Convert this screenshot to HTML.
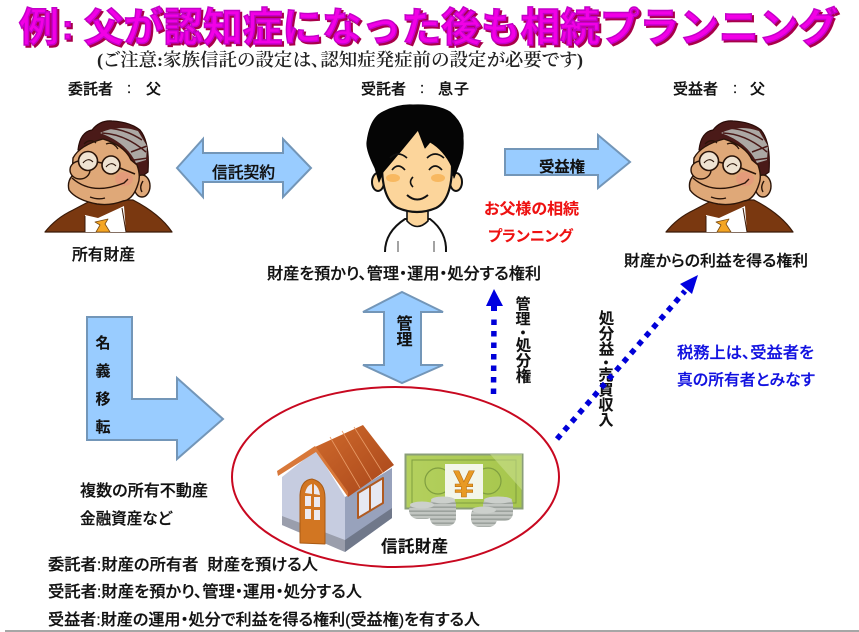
<!DOCTYPE html>
<html lang="ja">
<head>
<meta charset="utf-8">
<title>例:父が認知症になった後も相続プランニング</title>
<style>
html,body{margin:0;padding:0;background:#fff;width:859px;height:632px;overflow:hidden}
svg{display:block;filter:blur(.35px)}
text{font-family:"Liberation Sans","Noto Sans CJK JP",sans-serif;fill:#111;font-weight:500;stroke:#111;stroke-width:.25;font-feature-settings:"palt" 1}
.arr{fill:#99ccff;stroke:#7396b8;stroke-width:2}
.v{writing-mode:vertical-rl;font-weight:700;stroke-width:.1;font-feature-settings:normal}
.t{font-size:40px;font-weight:700;fill:#f200e6;stroke:#c400c8;stroke-width:1.5;font-feature-settings:normal}
.red{fill:#ee1111;stroke:#ee1111;font-weight:700;stroke-width:.1}
.blue{fill:#1010e0;stroke:#1010e0}
.h{font-size:15px}
</style>
</head>
<body>
<svg width="859" height="632" viewBox="0 0 859 632" xmlns="http://www.w3.org/2000/svg">
<defs>
<pattern id="coin" width="4" height="4" patternUnits="userSpaceOnUse"><rect width="4" height="4" fill="#c2c6c2"/><rect y="2.4" width="4" height="1.6" fill="#9ca29d"/></pattern>
<linearGradient id="roof" x1="0" y1="0" x2="1" y2="1"><stop offset="0" stop-color="#cf6a2c"/><stop offset="1" stop-color="#a8461a"/></linearGradient>
<linearGradient id="bill" x1="0" y1="0" x2="1" y2="0"><stop offset="0" stop-color="#b4d05e"/><stop offset="1" stop-color="#a6c64c"/></linearGradient>
<g id="man" stroke-linejoin="round">
  <path d="M45 232 Q56 218 73 210 L92 200 L133 200 Q160 214 172 232Z" fill="#7a3810" stroke="#3a1a08" stroke-width="1.2"/>
  <path d="M85 232 V215 L98 218 L124 206 L126 232Z" fill="#fff"/>
  <path d="M85 232 L85 216 M126 232 L122 208" stroke="#3a1a08" stroke-width="1"/>
  <path d="M95 222 L108 219 L105 224 L110 232 L96 232 L100 225Z" fill="#f5a623" stroke="#7a4a10" stroke-width=".8"/>
  <path d="M78 150 Q80 132 92 130 Q100 120 112 121 Q130 122 140 130 Q150 142 148 172 L137 180 L100 145Z" fill="#4a1a18" stroke="#2a0c08" stroke-width="1.2"/>
  <ellipse cx="142" cy="186" rx="8" ry="11" fill="#dfa878" stroke="#2a1408" stroke-width="1.4"/>
  <path d="M103 139 Q125 146 131 160 L137 165 Q141 176 138 184 Q133 200 123 201 Q110 206 97 204 Q76 200 69 190 Q67 182 72 176 L73 158 Q80 145 103 139Z" fill="#dfa878" stroke="#2a1408" stroke-width="1.4"/>
  <path d="M100 133 Q118 124 138 131 L147 146 L146 160 L136 163 Q126 142 100 133Z" fill="#aca8a4"/>
  <path d="M104 128 Q124 128 142 140 M102 133 Q125 134 146 152 M131 152 L147 146 M134 160 L148 158" stroke="#4a1a18" stroke-width="1.5" fill="none"/>
  <ellipse cx="124" cy="179" rx="9" ry="7" fill="#e8907c" opacity=".55"/>
  <ellipse cx="80" cy="170" rx="10" ry="9" fill="#dfa878" stroke="#2a1408" stroke-width="1.4"/>
  <path d="M72 178 Q92 196 124 183 L128 179 M90 197 Q98 200 105 198" fill="none" stroke="#2a1408" stroke-width="1.4"/>
  <path d="M84 144 Q90 138 96 143 M106 144 Q113 141 118 149" fill="none" stroke="#2a1408" stroke-width="1.3"/>
  <circle cx="88" cy="161" r="9.500" fill="#efe3d2" stroke="#2a1408" stroke-width="1.600"/>
  <circle cx="111" cy="165" r="9" fill="#efe3d2" stroke="#2a1408" stroke-width="1.600"/>
  <path d="M97 162 L102 163 M120 168 L135 174" stroke="#2a1408" stroke-width="1.6"/>
  <path d="M83 163 Q88 157 93 162 M106 167 Q111 161 116 166" fill="none" stroke="#2a1408" stroke-width="1.1"/>
  <path d="M143 181 Q139 187 142 192" fill="none" stroke="#2a1408" stroke-width="1.4"/>
</g>
</defs>

<!-- title -->
<g style="filter:drop-shadow(2.5px 2.5px 0 #a8004a)">
<text class="t" x="19" y="41">例</text>
<text class="t" x="62" y="39" style="font-size:34px">:</text>
<text class="t" x="84" y="41" textLength="754" lengthAdjust="spacingAndGlyphs">父が認知症になった後も相続プランニング</text>
</g>
<text x="97" y="66" font-size="18" textLength="486" lengthAdjust="spacingAndGlyphs" style='font-family:"Liberation Serif","Noto Serif CJK JP","Noto Serif CJK SC",serif;font-weight:600;fill:#222;stroke:none'>(ご注意:家族信託の設定は、認知症発症前の設定が必要です)</text>

<text class="h" x="68" y="94" textLength="45">委託者</text><text class="h" x="127" y="93">:</text><text class="h" x="146" y="94">父</text>
<text class="h" x="361" y="94" textLength="45">受託者</text><text class="h" x="420" y="93">:</text><text class="h" x="438" y="94" textLength="31">息子</text>
<text class="h" x="673" y="94" textLength="45">受益者</text><text class="h" x="733" y="93">:</text><text class="h" x="750" y="94">父</text>

<!-- people -->
<use href="#man"/>
<use href="#man" x="621"/>

<!-- son -->
<g stroke-linejoin="round">
  <path d="M385 252 Q385 232 405 219 L430 219 Q447 232 446 252" fill="#fff" stroke="#111" stroke-width="2"/>
  <path d="M398 241 V252 M434 241 V252" stroke="#666" stroke-width="1.2"/>
  <path d="M407 208 V221 Q417 232 428 221 V208Z" fill="#fcd59b" stroke="#111" stroke-width="1.6"/>
  <ellipse cx="378" cy="182" rx="6" ry="9" fill="#fcd59b" stroke="#111" stroke-width="2"/>
  <ellipse cx="456" cy="182" rx="6" ry="9" fill="#fcd59b" stroke="#111" stroke-width="2"/>
  <path d="M382 165 Q382 120 417 120 Q452 120 452 165 Q452 200 436 208 Q417 216 398 208 Q382 200 382 165Z" fill="#fcd59b" stroke="#111" stroke-width="2.2"/>
  <path d="M379 182 L375 168 Q366 150 367 142 Q370 118 383 112 Q398 104 413 105 Q436 104 450 112 Q464 124 463 138 Q464 152 460 162 L454 178 L452 167 Q444 150 430 142 L425 148 L418 130 Q402 150 383 172Z" fill="#050505" stroke="#050505" stroke-width="1"/>
  <path d="M390 158 Q398 150 407 158 M427 158 Q435 150 444 158 M392 170 Q398 162 405 170 M429 170 Q435 162 442 170" fill="none" stroke="#111" stroke-width="1.7"/>
  <ellipse cx="393" cy="178" rx="7" ry="4" fill="#f8b860"/>
  <ellipse cx="438" cy="178" rx="7" ry="4" fill="#f8b860"/>
  <path d="M413 177 Q408 182 413 187" fill="none" stroke="#111" stroke-width="1.600"/>
  <path d="M407 195 Q417 204 428 195" fill="none" stroke="#111" stroke-width="2"/>
</g>

<!-- block arrows -->
<polygon class="arr" points="177,168 203,139 203,153 283,153 283,139 311,168 283,197 283,182 203,182 203,197"/>
<polygon class="arr" points="505,149 598,149 598,135 630,162 598,188 598,175 505,175"/>
<polygon class="arr" points="402,292 443,312 421,312 421,365 443,365 402,383 363,365 384,365 384,312 363,312"/>
<polygon class="arr" points="87,317 132,317 132,399 177,399 177,378 223,419 177,459 177,440 87,440"/>

<text x="212" y="178" font-size="15.8" textLength="63">信託契約</text>
<text x="539" y="172" font-size="15.500" textLength="46" style="font-weight:700;stroke-width:.1">受益権</text>
<text class="red" x="484" y="214" font-size="15.500" textLength="95" lengthAdjust="spacingAndGlyphs">お父様の相続</text>
<text class="red" x="488" y="241" font-size="15" textLength="85" lengthAdjust="spacingAndGlyphs">プランニング</text>
<text x="72" y="260" font-size="15.800" textLength="63">所有財産</text>
<text x="267" y="279" font-size="15.800" textLength="274" lengthAdjust="spacingAndGlyphs">財産を預かり、管理・運用・処分する権利</text>
<text x="624" y="266" font-size="15.500" textLength="184" lengthAdjust="spacingAndGlyphs">財産からの利益を得る権利</text>
<text class="blue" x="677" y="358" font-size="15.800" textLength="137" lengthAdjust="spacingAndGlyphs">税務上は、受益者を</text>
<text class="blue" x="677" y="385" font-size="15.500" textLength="138" lengthAdjust="spacingAndGlyphs">真の所有者とみなす</text>
<text x="80" y="496" font-size="16" textLength="128" lengthAdjust="spacingAndGlyphs">複数の所有不動産</text>
<text x="80" y="524" font-size="16" textLength="92" lengthAdjust="spacingAndGlyphs">金融資産など</text>
<text x="48" y="570" font-size="15.800" textLength="270" lengthAdjust="spacingAndGlyphs" xml:space="preserve">委託者:財産の所有者  財産を預ける人</text>
<text x="48" y="597" font-size="15.800" textLength="314" lengthAdjust="spacingAndGlyphs">受託者:財産を預かり、管理・運用・処分する人</text>
<text x="48" y="625" font-size="15.800" textLength="432" lengthAdjust="spacingAndGlyphs">受益者:財産の運用・処分で利益を得る権利(受益権)を有する人</text>

<!-- vertical labels -->
<text class="v" x="402" y="315" font-size="16">管理</text>
<text class="v" x="102" y="335" font-size="15" letter-spacing="13">名義移転</text>
<text class="v" x="522" y="296" font-size="15">管理</text>
<text class="v" x="522" y="325" font-size="15">・</text>
<text class="v" x="522" y="337" font-size="15.500">処分権</text>
<text class="v" x="605" y="310" font-size="15.500">処分益</text>
<text class="v" x="605" y="355" font-size="15">・</text>
<text class="v" x="605" y="367" font-size="15">売買収入</text>

<!-- dotted arrows -->
<polygon points="494,289 503,306 497,306 497,311 491,311 491,306 486,306" fill="#0000e0"/>
<line x1="493.5" y1="394" x2="494" y2="316" stroke="#0000d8" stroke-width="5.5" stroke-dasharray="5.500 6"/>
<line x1="557" y1="439" x2="685" y2="291" stroke="#0000d8" stroke-width="5.5" stroke-dasharray="5.500 5.800"/>
<polygon points="698,275 692,294 680,284" fill="#0000e0"/>

<!-- ellipse -->
<ellipse cx="395.5" cy="477" rx="163.5" ry="90" fill="none" stroke="#c80820" stroke-width="2"/>

<!-- house -->
<g stroke-linejoin="round">
  <polygon points="282,477 316,450 345,497 345,552 282,525" fill="#c6cce0"/>
  <polygon points="282,516 345,540 345,552 282,525" fill="#9a9eac"/>
  <polygon points="345,497 392,468 392,518 345,552" fill="#98a2bc"/>
  <polygon points="345,540 392,508 392,518 345,552" fill="#70788a"/>
  <polygon points="363,425 394,465 348,497 315,447" fill="url(#roof)"/>
  <path d="M330 437 L360 488 M342 431 L372 481 M354 427 L383 473" stroke="#e89a66" stroke-width=".8"/>
  <polygon points="315,446 277,471 278,476 316,452 348,497 348,492" fill="#d8783a"/>
  <path d="M300 543 V495 Q301 480 312 479 Q325 482 325 498 V544Z" fill="#d27622" stroke="#a85a14" stroke-width="1"/>
  <path d="M305 493 Q307 485 312 484 V494Z M314 484 Q319 487 320 495 L314 494Z M305 496 H311 V506 H305Z M314 497 H320 V507 H314Z M305 509 H311 V519 H305Z M314 510 H320 V520 H314Z" fill="#eceaf0"/>
  <polygon points="358,493 383,478 383,503 358,518" fill="#e6e8f2" stroke="#b05a20" stroke-width="2"/>
  <path d="M370 486 V511" stroke="#b05a20" stroke-width="2"/>
</g>

<!-- banknote -->
<rect x="405.500" y="454.500" width="117" height="54" fill="url(#bill)" stroke="#8a9e78" stroke-width="2"/>
<path d="M412 460 H516 V503 H412Z" fill="none" stroke="#7f9e40" stroke-width="1"/>
<path d="M490 454 L522 454 V490Z" fill="#cfe39a" opacity=".5"/>
<circle cx="438" cy="481" r="13" fill="none" stroke="#7f9e40" stroke-width="1.2"/>
<circle cx="488" cy="481" r="13" fill="none" stroke="#7f9e40" stroke-width="1.2"/>
<rect x="445" y="464" width="38" height="35" fill="#f3f6ea"/>
<text x="464" y="497" font-size="38" text-anchor="middle" style="font-weight:700;fill:#e89a24;stroke:#b86e10;stroke-width:.6;font-feature-settings:normal">¥</text>

<!-- coins -->
<rect x="409" y="502" width="26" height="17" rx="9" fill="url(#coin)"/>
<rect x="430" y="497" width="26" height="29" rx="8" fill="url(#coin)"/>
<rect x="483" y="497" width="30" height="24" rx="8" fill="url(#coin)"/>
<rect x="471" y="507" width="26" height="20" rx="8" fill="url(#coin)"/>
<ellipse cx="422" cy="505" rx="12" ry="3.500" fill="#ccd0cc"/>
<ellipse cx="443" cy="500" rx="12" ry="3.500" fill="#ccd0cc"/>
<ellipse cx="498" cy="500" rx="14" ry="3.500" fill="#ccd0cc"/>
<ellipse cx="484" cy="510" rx="12" ry="3.500" fill="#ccd0cc"/>

<text x="381" y="552" font-size="16.500" textLength="67" style="font-weight:700;stroke-width:.1">信託財産</text>

<line x1="5" y1="631" x2="859" y2="631" stroke="#888" stroke-width="1.5"/>
</svg>
</body>
</html>
